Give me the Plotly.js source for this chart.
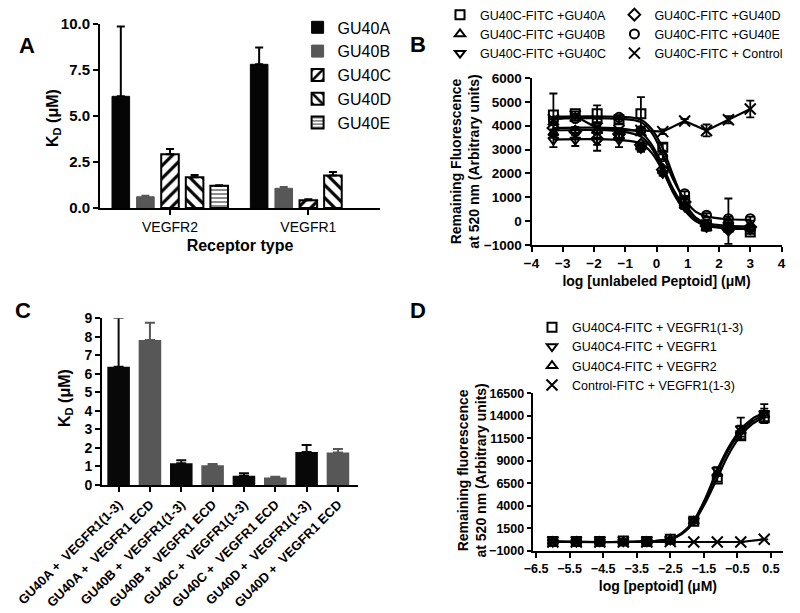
<!DOCTYPE html>
<html>
<head>
<meta charset="utf-8">
<script src="https://cdn.plot.ly/plotly-3.0.1.min.js"></script>
<style>
  body { margin: 0; background: #ffffff; }
  #plot { width: 800px; height: 613px; }
</style>
</head>
<body>
<div id="plot"></div>
<script>
// ---- panel A : KD of each peptoid for the two receptors ----
let receptorTypes = ["VEGFR2", "VEGFR1"];
let kdGU40A = [6.07, 7.81];
let kdGU40B = [0.61, 1.07];
let kdGU40C = [2.92, 0.42];
let kdGU40D = [1.67, 1.76];
let kdGU40E = [1.21, null];
let kdErrGU40A = [3.8, 0.92];
let kdErrGU40B = [0.05, 0.07];
let kdErrGU40C = [0.28, 0.05];
let kdErrGU40D = [0.13, 0.2];
let kdErrGU40E = [0.02, null];

// ---- panel B : competition of GU40C-FITC with unlabeled peptoids ----
let logConcB = [-3.3, -2.6, -1.9, -1.2, -0.5, 0.2, 0.9, 1.6, 2.3, 3.0];
let flGU40A = [4450, 4500, 4500, 4250, 4500, 3100, 850, -150, -250, -450];
let flGU40B = [3700, 3800, 3800, 3550, 3100, 2100, 650, -300, 0, -300];
let flGU40C = [3400, 3400, 3350, 3400, 3050, 2000, 600, -250, -300, -350];
let flGU40D = [3900, 3750, 3450, 3650, 3200, 2150, 800, -200, -350, -250];
let flGU40E = [4200, 4300, 4200, 4350, 3800, 2700, 1150, 250, 100, 100];
let flControlB = [4250, 4400, 3900, 3800, 3800, 3750, 4200, 3800, 4250, 4700];
let flErrGU40A = [900, 100, 350, 150, 700, 150, 150, 100, 100, 80];
let flErrGU40B = [150, 150, 150, 150, 150, 150, 150, 100, 950, 100];
let flErrGU40C = [300, 250, 150, 300, 150, 100, 100, 100, 100, 100];
let flErrGU40D = [200, 150, 500, 200, 100, 100, 100, 100, 100, 100];
let flErrGU40E = [150, 100, 100, 80, 100, 100, 100, 80, 80, 80];
let flErrControlB = [100, 100, 100, 100, 100, 100, 80, 250, 150, 350];

// fitted curves
let fitXB = [-3.3, -1.2, -0.5, -0.15, 0.2, 0.55, 0.9, 1.25, 1.6, 2.3, 3.0];
let fitGU40A = [4380, 4370, 4250, 3850, 3050, 1850, 800, 150, -150, -300, -330];
let fitGU40B = [3800, 3770, 3550, 3050, 2150, 1150, 450, 0, -200, -300, -310];
let fitGU40C = [3420, 3400, 3250, 2850, 2100, 1200, 500, 50, -150, -280, -300];
let fitGU40D = [3900, 3880, 3700, 3200, 2300, 1300, 600, 150, -80, -200, -220];
let fitGU40E = [4300, 4290, 4150, 3700, 2800, 1700, 900, 400, 200, 80, 60];

// ---- panel C : KD for VEGFR1 domains ----
let pairLabels = ["GU40A +  VEGFR1(1-3)", "GU40A +  VEGFR1 ECD", "GU40B +  VEGFR1(1-3)", "GU40B +  VEGFR1 ECD",
                  "GU40C +  VEGFR1(1-3)", "GU40C +  VEGFR1 ECD", "GU40D +  VEGFR1(1-3)", "GU40D +  VEGFR1 ECD"];
let kdPairs = [6.38, 7.83, 1.17, 1.06, 0.5, 0.4, 1.78, 1.75];
let kdPairsErr = [2.65, 0.93, 0.17, 0.07, 0.13, 0.05, 0.38, 0.19];

// ---- panel D : GU40C4-FITC binding to receptors ----
let logConcD = [-6.0, -5.3, -4.6, -3.9, -3.2, -2.5, -1.8, -1.1, -0.4, 0.3];
let flR113 = [50, 50, 50, 100, 50, 300, 2300, 7000, 11800, 13800];
let flR1 = [0, 0, 50, 50, 50, 250, 2400, 8000, 12600, 14300];
let flR2 = [50, 50, 50, 50, 50, 300, 2300, 7600, 12300, 14100];
let flControlD = [0, 0, 0, 0, 0, 50, 0, 0, 0, 300];
let flErrR113 = [100, 100, 100, 100, 100, 150, 200, 300, 500, 600];
let flErrR1 = [100, 100, 100, 100, 100, 150, 200, 300, 1200, 1000];
let flErrR2 = [100, 100, 100, 100, 100, 150, 200, 300, 600, 700];

let fitXD = [-6.0, -3.2, -2.5, -2.15, -1.8, -1.45, -1.1, -0.75, -0.4, -0.05, 0.3];
let fitR113 = [50, 60, 300, 900, 2200, 4400, 7100, 9800, 11800, 13100, 13800];
let fitR1 = [50, 60, 330, 1000, 2400, 4900, 8000, 10600, 12500, 13700, 14350];
let fitR2 = [50, 60, 320, 950, 2300, 4700, 7700, 10300, 12200, 13400, 14100];

let font = "Liberation Sans, Arial, sans-serif";
let black = "#000000";
let grey = "#575757";

function zeros(a) { return a.map(function () { return 0; }); }

// bar trace for panel A
function barA(name, y, err, fill) {
    let t = {
        x: receptorTypes, y: y, name: name, type: "bar",
        xaxis: "x", yaxis: "y", legend: "legend",
        marker: { color: fill.color, line: { color: fill.line, width: fill.lw } },
        error_y: { type: "data", symmetric: false, array: err, arrayminus: zeros(err),
                   color: fill.errColor || black, thickness: 2, width: 4 }
    };
    if (fill.pattern) t.marker.pattern = fill.pattern;
    return t;
}

let data = [];
data.push(barA("GU40A", kdGU40A, kdErrGU40A, { color: "#050505", line: "#050505", lw: 1 }));
data.push(barA("GU40B", kdGU40B, kdErrGU40B, { color: grey, line: grey, lw: 1, errColor: grey }));
data.push(barA("GU40C", kdGU40C, kdErrGU40C, { color: "white", line: black, lw: 2,
    pattern: { shape: "/", fgcolor: black, bgcolor: "white", size: 9, solidity: 0.35, fillmode: "replace" } }));
data.push(barA("GU40D", kdGU40D, kdErrGU40D, { color: "white", line: black, lw: 2,
    pattern: { shape: "\\", fgcolor: black, bgcolor: "white", size: 9, solidity: 0.35, fillmode: "replace" } }));
data.push(barA("GU40E", kdGU40E, kdErrGU40E, { color: "white", line: black, lw: 2,
    pattern: { shape: "-", fgcolor: "#8a8a8a", bgcolor: "white", size: 4, solidity: 0.5, fillmode: "replace" } }));

// markers for panel B / D
function pts(x, y, err, name, symbol, xa, ya, leg, size) {
    return {
        x: x, y: y, name: name, type: "scatter", mode: "markers",
        xaxis: xa, yaxis: ya, legend: leg,
        marker: { symbol: symbol, color: black, size: size, line: { color: black, width: 2 } },
        error_y: { type: "data", array: err, color: black, thickness: 1.8, width: 4 }
    };
}
function fitLine(x, y, xa, ya, shape) {
    return {
        x: x, y: y, type: "scatter", mode: "lines", showlegend: false,
        xaxis: xa, yaxis: ya,
        line: { color: black, width: 2.2, shape: shape, smoothing: 1 }
    };
}

// panel B curves then markers
data.push(fitLine(fitXB, fitGU40A, "x2", "y2", "spline"));
data.push(fitLine(fitXB, fitGU40B, "x2", "y2", "spline"));
data.push(fitLine(fitXB, fitGU40C, "x2", "y2", "spline"));
data.push(fitLine(fitXB, fitGU40D, "x2", "y2", "spline"));
data.push(fitLine(fitXB, fitGU40E, "x2", "y2", "spline"));
data.push(fitLine(logConcB, flControlB, "x2", "y2", "linear"));
data.push(pts(logConcB, flGU40A, flErrGU40A, "GU40C-FITC +GU40A", "square-open", "x2", "y2", "legend2", 9));
data.push(pts(logConcB, flGU40B, flErrGU40B, "GU40C-FITC +GU40B", "triangle-up-open", "x2", "y2", "legend2", 9));
data.push(pts(logConcB, flGU40C, flErrGU40C, "GU40C-FITC +GU40C", "triangle-down-open", "x2", "y2", "legend2", 9));
data.push(pts(logConcB, flGU40D, flErrGU40D, "GU40C-FITC +GU40D", "diamond-open", "x2", "y2", "legend3", 9));
data.push(pts(logConcB, flGU40E, flErrGU40E, "GU40C-FITC +GU40E", "circle-open", "x2", "y2", "legend3", 9));
data.push(pts(logConcB, flControlB, flErrControlB, "GU40C-FITC + Control", "x-thin-open", "x2", "y2", "legend3", 11));

// panel C : two bar sets, placed by hand offset so they are not grouped
let idxR113 = [0, 2, 4, 6];
let idxECD = [1, 3, 5, 7];
function pick(a, idx) { return idx.map(function (i) { return a[i]; }); }
data.push({
    x: pick(pairLabels, idxR113), y: pick(kdPairs, idxR113), type: "bar", showlegend: false,
    xaxis: "x3", yaxis: "y3", width: 0.72, offset: -0.36,
    marker: { color: "#080808" },
    error_y: { type: "data", symmetric: false, array: pick(kdPairsErr, idxR113),
               arrayminus: [0, 0, 0, 0], color: "#080808", thickness: 2, width: 5 }
});
data.push({
    x: pick(pairLabels, idxECD), y: pick(kdPairs, idxECD), type: "bar", showlegend: false,
    xaxis: "x3", yaxis: "y3", width: 0.72, offset: -0.36,
    marker: { color: grey },
    error_y: { type: "data", symmetric: false, array: pick(kdPairsErr, idxECD),
               arrayminus: [0, 0, 0, 0], color: grey, thickness: 2, width: 5 }
});

// panel D curves then markers
data.push(fitLine(fitXD, fitR113, "x4", "y4", "spline"));
data.push(fitLine(fitXD, fitR1, "x4", "y4", "spline"));
data.push(fitLine(fitXD, fitR2, "x4", "y4", "spline"));
data.push(fitLine(logConcD, flControlD, "x4", "y4", "linear"));
data.push(pts(logConcD, flR113, flErrR113, "GU40C4-FITC + VEGFR1(1-3)", "square-open", "x4", "y4", "legend4", 9));
data.push(pts(logConcD, flR1, flErrR1, "GU40C4-FITC + VEGFR1", "triangle-down-open", "x4", "y4", "legend4", 9));
data.push(pts(logConcD, flR2, flErrR2, "GU40C4-FITC + VEGFR2", "triangle-up-open", "x4", "y4", "legend4", 9));
data.push(pts(logConcD, flControlD, zeros(flControlD), "Control-FITC + VEGFR1(1-3)", "x-thin-open", "x4", "y4", "legend4", 11));

// common axis look
function ax(extra) {
    let base = {
        showline: true, linecolor: black, linewidth: 2,
        ticks: "outside", ticklen: 5, tickwidth: 2, tickcolor: black,
        showgrid: false, zeroline: false,
        tickfont: { family: font, size: 13.5, color: black, weight: "bold" }
    };
    return Object.assign(base, extra);
}
function ttl(text, size, standoff) {
    return { text: text, standoff: standoff, font: { family: font, size: size, color: black, weight: "bold" } };
}
function legendAt(x, y, size) {
    return { x: x, y: y, xanchor: "left", yanchor: "top", bgcolor: "rgba(0,0,0,0)",
             font: { family: font, size: size, color: black }, tracegroupgap: 0 };
}
function letter(t, x, y) {
    return { text: "<b>" + t + "</b>", x: x / 800, y: 1 - y / 613, xref: "paper", yref: "paper",
             showarrow: false, font: { family: font, size: 22, color: black } };
}
// rotated y titles placed by pixel centre
function sideTitle(t, x, y, size) {
    return { text: "<b>" + t + "</b>", x: x / 800, y: 1 - y / 613, xref: "paper", yref: "paper",
             xanchor: "center", yanchor: "middle", textangle: -90, showarrow: false,
             font: { family: font, size: size, color: black } };
}

let layout = {
    width: 800, height: 613,
    margin: { l: 0, r: 0, t: 0, b: 0 },
    paper_bgcolor: "white", plot_bgcolor: "white",
    barmode: "group", bargap: 0.111, bargroupgap: 0.285,
    hovermode: false,
    // panel A
    xaxis: ax({ domain: [0.125, 0.475], anchor: "y", type: "category", range: [-0.506, 1.518],
                tickfont: { family: font, size: 14, color: black },
                title: ttl("Receptor type", 16, 6) }),
    yaxis: ax({ domain: [0.6607, 0.9608], anchor: "x", range: [0, 10], dtick: 2.5, tickformat: ".1f",
                tickfont: { family: font, size: 15, color: black, weight: "bold" } }),
    // panel B
    xaxis2: ax({ domain: [0.6644, 0.9769], anchor: "y2", range: [-4, 4], dtick: 1,
                 title: ttl("log [unlabeled Peptoid] (\u03bcM)", 14, 6) }),
    yaxis2: ax({ domain: [0.6003, 0.8728], anchor: "x2", range: [-1000, 6000], dtick: 1000,
                 title: ttl("Remaining Fluorescence<br>at 520 nm (Arbitrary units)", 14, 1) }),
    // panel C
    xaxis3: ax({ domain: [0.1275, 0.4475], anchor: "y3", type: "category", range: [-0.53, 7.64],
                 tickangle: -45, categoryorder: "array", categoryarray: pairLabels,
                 tickfont: { family: font, size: 13, color: black, weight: "bold" } }),
    yaxis3: ax({ domain: [0.2088, 0.4807], anchor: "x3", range: [0, 9], dtick: 1,
                 tickfont: { family: font, size: 14, color: black, weight: "bold" } }),
    // panel D
    xaxis4: ax({ domain: [0.6659, 0.9788], anchor: "y4", range: [-6.6, 0.86], tick0: -6.5, dtick: 1,
                 tickformat: ".1f", tickfont: { family: font, size: 12.5, color: black, weight: "bold" },
                 title: ttl("log [peptoid] (\u03bcM)", 14, 6) }),
    yaxis4: ax({ domain: [0.1011, 0.3584], anchor: "x4", range: [-1000, 16500], tick0: -1000, dtick: 2500,
                 tickformat: "d", ticklen: 4,
                 tickfont: { family: font, size: 12.5, color: black, weight: "bold" } }),
    legend: legendAt(0.372, 0.983, 16),
    legend2: legendAt(0.55, 1.0, 12.5),
    legend3: legendAt(0.768, 1.0, 12.5),
    legend4: legendAt(0.665, 0.49, 12.5),
    annotations: [
        letter("A", 17, 31), letter("B", 418, 30), letter("C", 13, 310), letter("D", 418, 310),
        sideTitle("K<sub>D</sub> (\u03bcM)", 53, 118, 16),
        sideTitle("K<sub>D</sub> (\u03bcM)", 65, 398, 16),
        sideTitle("Remaining fluorescence<br>at 520 nm (Arbitrary units)", 471.5, 471, 14)
    ]
};

// render the figure to the tag with id = 'plot'
Plotly.newPlot("plot", data, layout, { staticPlot: true, displayModeBar: false });
</script>
</body>
</html>
